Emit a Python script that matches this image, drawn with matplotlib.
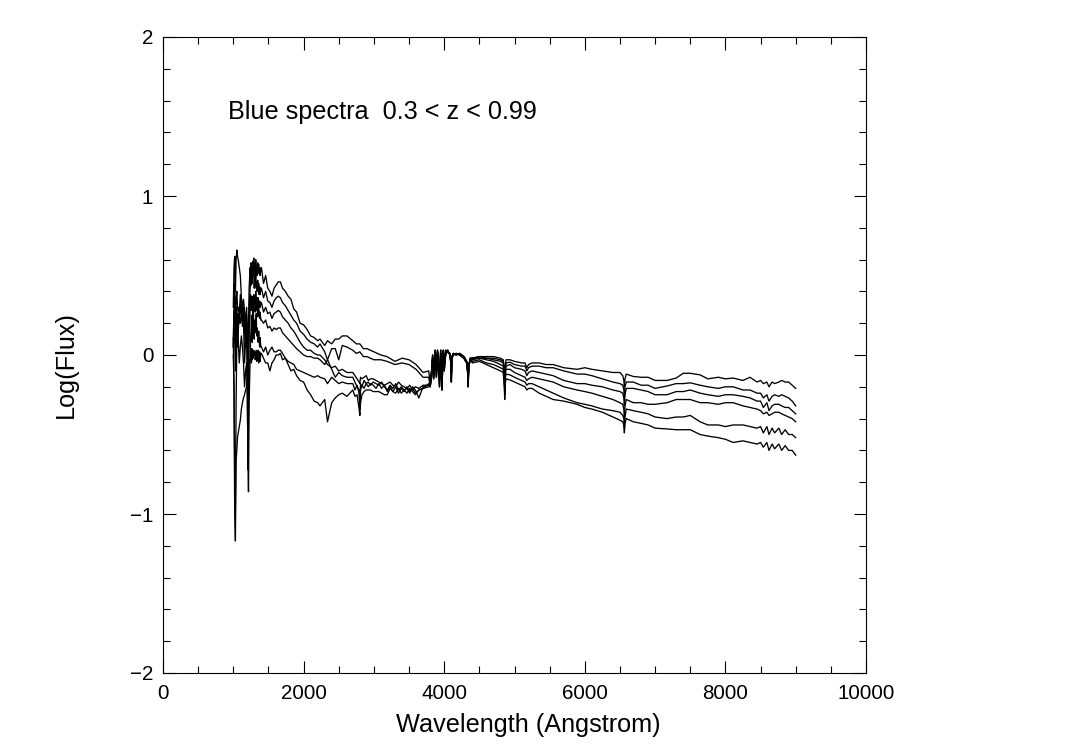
import matplotlib
matplotlib.use('Agg')
import matplotlib.pyplot as plt
from matplotlib.ticker import MultipleLocator

plt.rcParams['font.family'] = ['Liberation Sans', 'DejaVu Sans']

# wavelengths
wave_uv = [1000, 1010, 1020, 1030, 1040, 1050, 1060, 1070, 1085, 1100,
           1115, 1130, 1145, 1160, 1175, 1190, 1200, 1210, 1216, 1225]
wave_lya = [1240, 1246, 1252, 1258, 1264, 1270, 1277, 1284, 1291, 1298,
            1305, 1312, 1319, 1326, 1333, 1340, 1347, 1354, 1361, 1368,
            1375, 1382, 1391, 1400]
wave_nuv = [1430, 1460, 1490, 1520, 1550, 1580, 1610, 1640, 1670, 1700,
            1740, 1780, 1820, 1860, 1900, 1950, 2000, 2050, 2100, 2150,
            2200, 2233, 2300, 2340, 2400, 2450, 2500, 2550, 2617]
wave_opt = [2700, 2750, 2800, 2850, 2900, 3000, 3100, 3186, 3300, 3400,
            3500, 3600, 3700, 3780]
wave_opt_fine = [2700, 2730, 2760, 2790, 2800, 2810, 2830, 2860, 2890, 2920,
                 2950, 2990, 3030, 3070, 3110, 3150, 3190, 3230, 3270, 3310,
                 3350, 3390, 3430, 3470, 3510, 3550, 3590, 3640, 3700, 3780]
wave_mid = [3800, 3820, 3835, 3850, 3870, 3889, 3905, 3920, 3933, 3950,
            3968, 3985, 4000, 4020, 4050, 4080, 4095, 4102, 4110, 4130,
            4170, 4220, 4280, 4320, 4335, 4340, 4350, 4370]
wave_red = [4400, 4500, 4600, 4700, 4800, 4840, 4855, 4861, 4868, 4880,
            4936, 5000, 5100, 5150, 5175, 5200, 5250, 5350, 5450, 5550,
            5700, 5890, 6000, 6100, 6250, 6400, 6500, 6540, 6555, 6563,
            6572, 6590, 6690, 6800, 6900, 7000, 7170, 7300, 7400, 7500,
            7640, 7750, 7900, 8000, 8110, 8250, 8350, 8450, 8500, 8540,
            8590, 8620, 8665, 8700, 8760, 8800, 8850, 8900, 8950, 9000]

# the 3800-4400 part is nearly the same for all of them
mid_1 = [-.18, -.10, -.02, -.15, .01, -.10, .03, -.12, -.16, .03,
         -.22, .02, -.05, .03, .02, .01, -.03, -.17, -.02, .00,
         .01, .00, -.02, -.05, -.10, -.20, -.08, -.02]
mid_2 = [-.20, -.14, .00, -.12, .03, -.14, .02, -.06, -.20, .01,
         -.14, .03, -.10, .00, .03, .00, -.05, -.12, -.01, .01,
         .00, .01, -.01, -.04, -.12, -.16, -.06, -.03]

uv_a = [.30, .55, .62, .40, .60, .66, .62, .60, .55, .50,
        .36, .30, .35, .28, .20, .30, .10, -.05, .15, .42]
uv_b = [.10, .30, .45, .20, .35, .40, .30, .30, .25, .38,
        .30, .24, .30, .22, .12, .25, .05, -.20, .05, .30]
uv_c = [.05, .20, .28, .10, .25, .30, .18, .26, .20, .32,
        .25, .18, .28, .15, .05, .22, .00, -.30, -.05, .18]
uv_d = [.00, -.20, -1.0, -1.17, -.66, -.60, -.52, -.49, -.45, -.41,
        -.34, -.30, -.27, -.25, -.22, -.20, -.15, -.10, .00, .20]
uv_e = [.05, .28, .10, -.10, .15, .22, .05, .15, .25, .20,
        .25, .30, .20, -.05, .10, .20, -.30, -.70, -.86, -.30]
uv_f = [.10, -.20, -.75, -.95, -.30, .10, .25, .10, -.05, .05,
        .12, .05, -.05, -.20, -.10, -.05, -.25, -.72, -.40, -.05]

lya_a = [.55, .50, .58, .52, .56, .50, .59, .55, .61, .52, .58, .50,
         .60, .53, .56, .50, .58, .52, .57, .51, .55, .50, .54, .55]
lya_b = [.42, .47, .50, .44, .48, .45, .56, .50, .54, .42, .50, .44,
         .52, .42, .46, .40, .47, .41, .45, .38, .43, .38, .42, .42]
lya_c = [.33, .38, .34, .30, .37, .30, .36, .32, .38, .30, .36, .31,
         .40, .34, .32, .36, .30, .36, .32, .30, .34, .30, .33, .33]
lya_d = [.32, .36, .28, .34, .30, .34, .25, .33, .28, .32, .36, .27,
         .30, .33, .28, .30, .24, .28, .31, .26, .23, .27, .22, .22]
lya_e = [.00, .10, .16, .25, .12, .08, .20, .30, .18, .10, .22, .14,
         .16, .26, .12, .17, .12, .08, .15, .10, .05, .11, .05, .05]
lya_f = [-.02, .03, .01, -.05, .04, -.03, .02, -.02, .03, .00, .02, -.03,
         .00, .03, -.04, -.03, .02, .03, -.05, -.02, .02, -.04, .01, .01]

nuv_a = [.45, .50, .42, .40, .37, .42, .44, .46, .46, .42,
         .40, .37, .35, .29, .27, .20, .19, .16, .12, .11,
         .09, .10, .06, .09, .07, .10, .10, .12, .12]
nuv_b = [.36, .40, .34, .33, .30, .34, .36, .37, .36, .33,
         .31, .28, .25, .22, .20, .15, .13, .10, .08, .07,
         .05, .07, .02, -.03, .04, .04, -.03, .06, .05]
nuv_c = [.27, .30, .26, .27, .23, .26, .27, .28, .27, .24,
         .22, .20, .17, .15, .12, .08, .05, .03, .03, .01,
         .00, .00, -.03, -.06, -.08, -.07, -.10, -.09, -.11]
nuv_d = [.20, .22, .17, .18, .15, .17, .16, .17, .17, .14,
         .12, .10, .08, .06, .04, .02, .00, -.01, -.01, -.02,
         -.02, -.03, -.06, -.03, -.09, -.14, -.11, -.13, -.14]
nuv_e = [.02, .05, .00, .03, .05, .02, .02, .03, .03, .01,
         -.02, -.04, -.05, -.06, -.09, -.10, -.11, -.12, -.13, -.14,
         -.13, -.14, -.15, -.18, -.14, -.16, -.18, -.17, -.18]
nuv_f = [-.02, -.05, -.05, -.10, -.05, -.03, .00, .00, .01, -.03,
         -.02, -.06, -.10, -.09, -.13, -.16, -.17, -.22, -.25, -.29,
         -.30, -.32, -.28, -.42, -.30, -.27, -.25, -.24, -.26]

opt_a = [.09, .07, .07, .04, .04, .02, .00, -.01, -.04, -.02, -.03, -.06, -.11, -.10]
opt_b = [.03, .01, .02, -.01, -.01, -.03, -.03, -.04, -.06, -.05, -.06, -.09, -.14, -.14]
opt_c = [-.11, -.13, -.15, -.17, -.18, -.14, -.15, -.14, -.13, -.16,
         -.15, -.15, -.16, -.17, -.18, -.19, -.18, -.17, -.19, -.20,
         -.17, -.19, -.20, -.21, -.19, -.22, -.20, -.21, -.19, -.19]
opt_d = [-.14, -.17, -.20, -.22, -.30, -.18, -.20, -.16, -.18, -.17,
         -.19, -.17, -.18, -.19, -.17, -.20, -.22, -.19, -.21, -.18,
         -.22, -.20, -.22, -.21, -.24, -.20, -.22, -.27, -.20, -.19]
opt_e = [-.18, -.22, -.19, -.24, -.34, -.22, -.19, -.21, -.18, -.20,
         -.18, -.19, -.21, -.18, -.21, -.19, -.23, -.20, -.23, -.20,
         -.24, -.21, -.23, -.20, -.23, -.21, -.24, -.22, -.21, -.20]
opt_f = [-.22, -.26, -.25, -.34, -.38, -.30, -.25, -.23, -.22, -.22,
         -.22, -.23, -.23, -.23, -.24, -.25, -.25, -.21, -.23, -.24,
         -.21, -.24, -.22, -.24, -.21, -.23, -.25, -.22, -.21, -.18]

red_a = [-.02, -.01, -.01, -.01, -.02, -.03, -.08, -.14, -.07, -.03,
         -.03, -.04, -.05, -.05, -.08, -.06, -.05, -.05, -.06, -.06,
         -.08, -.09, -.08, -.09, -.10, -.11, -.11, -.13, -.16, -.20,
         -.15, -.12, -.135, -.14, -.14, -.16, -.16, -.145, -.115, -.115,
         -.125, -.15, -.14, -.15, -.145, -.16, -.14, -.17, -.16, -.18,
         -.17, -.20, -.17, -.18, -.17, -.16, -.17, -.17, -.19, -.21]
red_b = [-.02, -.01, -.02, -.02, -.03, -.04, -.10, -.17, -.09, -.05,
         -.045, -.06, -.07, -.07, -.10, -.08, -.07, -.07, -.08, -.08,
         -.10, -.12, -.12, -.13, -.15, -.17, -.18, -.19, -.22, -.27,
         -.20, -.17, -.17, -.19, -.19, -.21, -.195, -.18, -.18, -.175,
         -.19, -.20, -.21, -.20, -.20, -.22, -.22, -.24, -.24, -.27,
         -.25, -.29, -.26, -.25, -.26, -.25, -.26, -.27, -.29, -.32]
red_c = [-.02, -.02, -.02, -.03, -.04, -.05, -.13, -.20, -.11, -.07,
         -.06, -.08, -.09, -.10, -.13, -.11, -.10, -.11, -.12, -.13,
         -.16, -.18, -.18, -.19, -.20, -.22, -.23, -.24, -.27, -.32,
         -.25, -.21, -.21, -.22, -.23, -.25, -.25, -.23, -.23, -.22,
         -.24, -.25, -.26, -.25, -.25, -.26, -.27, -.29, -.29, -.33,
         -.30, -.35, -.32, -.31, -.31, -.32, -.33, -.33, -.35, -.37]
red_d = [-.03, -.02, -.03, -.04, -.06, -.07, -.15, -.22, -.13, -.09,
         -.09, -.11, -.13, -.14, -.16, -.15, -.14, -.15, -.16, -.17,
         -.20, -.22, -.23, -.24, -.26, -.28, -.30, -.31, -.34, -.40,
         -.32, -.28, -.30, -.30, -.31, -.31, -.30, -.28, -.28, -.28,
         -.30, -.30, -.31, -.30, -.30, -.32, -.33, -.34, -.35, -.37,
         -.36, -.38, -.37, -.36, -.36, -.37, -.38, -.39, -.40, -.42]
red_e = [-.04, -.03, -.05, -.06, -.08, -.09, -.17, -.25, -.15, -.12,
         -.125, -.14, -.16, -.17, -.19, -.18, -.18, -.20, -.22, -.24,
         -.27, -.30, -.31, -.32, -.34, -.35, -.36, -.38, -.40, -.46,
         -.39, -.34, -.35, -.36, -.37, -.39, -.40, -.39, -.39, -.38,
         -.42, -.44, -.44, -.45, -.44, -.44, -.45, -.46, -.45, -.49,
         -.45, -.50, -.46, -.49, -.46, -.50, -.47, -.50, -.50, -.52]
red_f = [-.05, -.04, -.06, -.08, -.10, -.11, -.20, -.28, -.18, -.15,
         -.157, -.17, -.19, -.20, -.22, -.21, -.21, -.24, -.26, -.28,
         -.29, -.31, -.33, -.34, -.36, -.39, -.41, -.42, -.44, -.49,
         -.43, -.40, -.42, -.43, -.44, -.46, -.465, -.47, -.47, -.47,
         -.50, -.51, -.52, -.53, -.55, -.54, -.55, -.56, -.55, -.58,
         -.55, -.60, -.56, -.59, -.56, -.60, -.57, -.60, -.60, -.63]

# top two spectra have a smoother optical part than the other four
wave_top = wave_uv + wave_lya + wave_nuv + wave_opt + wave_mid + wave_red
wave_low = wave_uv + wave_lya + wave_nuv + wave_opt_fine + wave_mid + wave_red
spectra = [(wave_top, uv_a + lya_a + nuv_a + opt_a + mid_1 + red_a),
           (wave_top, uv_b + lya_b + nuv_b + opt_b + mid_2 + red_b),
           (wave_low, uv_c + lya_c + nuv_c + opt_c + mid_1 + red_c),
           (wave_low, uv_d + lya_d + nuv_d + opt_d + mid_2 + red_d),
           (wave_low, uv_e + lya_e + nuv_e + opt_e + mid_1 + red_e),
           (wave_low, uv_f + lya_f + nuv_f + opt_f + mid_2 + red_f)]

fig = plt.figure(figsize=(10.86, 7.53), dpi=100)
ax = fig.add_axes([163/1086, 1 - 673/753, (866-163)/1086, (673-37)/753])

for wave, flux in spectra:
    ax.plot(wave, flux, color='k', linewidth=0.95)

ax.set(xlim=(0, 10000), ylim=(-2, 2))
ax.xaxis.set_major_locator(MultipleLocator(2000))
ax.xaxis.set_minor_locator(MultipleLocator(500))
ax.yaxis.set_major_locator(MultipleLocator(1))
ax.yaxis.set_minor_locator(MultipleLocator(0.2))
ax.tick_params(which='major', direction='in', top=True, right=True, length=9,
               width=0.8, labelsize=14.8)
ax.tick_params(axis='x', which='major', pad=8)
ax.tick_params(axis='y', which='major', pad=7)
ax.tick_params(which='minor', direction='in', top=True, right=True, length=5, width=0.8)

ax.text(925, 1.53, 'Blue spectra  0.3 < z < 0.99', fontsize=18.2, va='center')
fig.text(528/1086, 1 - 725/753, 'Wavelength (Angstrom)', fontsize=18.2, ha='center', va='center')
fig.text(66/1086, 1 - 365/753, 'Log(Flux)', fontsize=18.2, rotation=90, ha='center', va='center')

plt.savefig('out.png', dpi=100)
